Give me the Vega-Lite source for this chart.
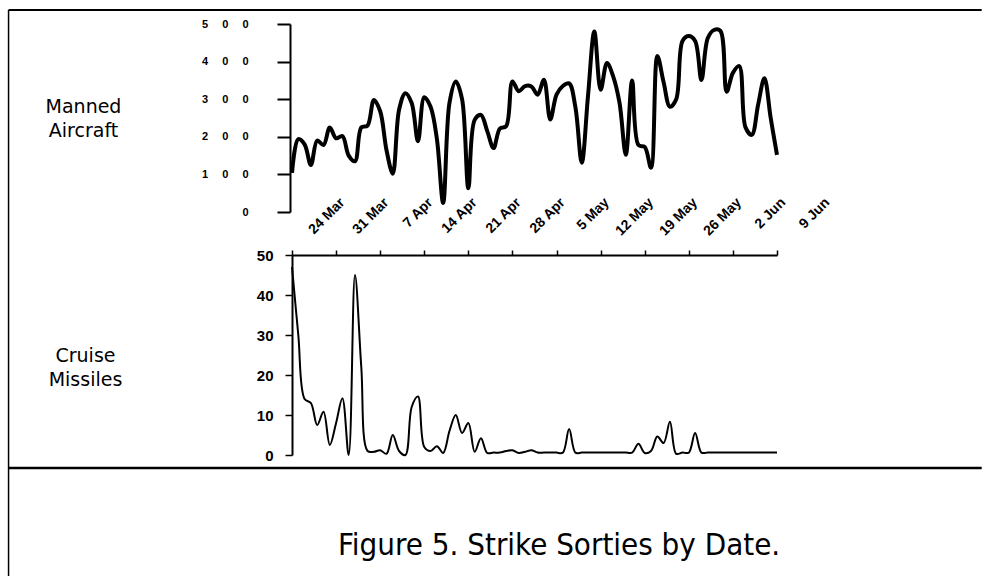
{
  "$schema": "https://vega.github.io/schema/vega-lite/v6.json",
  "background": "white",
  "padding": {"left": 7, "top": 9, "right": 0, "bottom": 0},
  "autosize": {"type": "pad"},
  "config": {
    "view": {"stroke": null},
    "axis": {"grid": false, "domainColor": "black", "tickColor": "black", "labelColor": "black", "titleColor": "black"}
  },
  "title": {
    "text": "Figure 5. Strike Sorties by Date.",
    "orient": "bottom",
    "anchor": "middle",
    "font": "DejaVu Sans Condensed, Open Sans, sans-serif",
    "fontSize": 31,
    "fontWeight": "normal",
    "color": "black",
    "offset": -46,
    "dx": 64
  },
  "datasets": {
    "sorties": [
      {"date": "1999-03-24", "manned": 104, "cruise": 47},
      {"date": "1999-03-25", "manned": 194, "cruise": 30},
      {"date": "1999-03-26", "manned": 180, "cruise": 14},
      {"date": "1999-03-27", "manned": 125, "cruise": 13},
      {"date": "1999-03-28", "manned": 190, "cruise": 7.5},
      {"date": "1999-03-29", "manned": 178, "cruise": 10.8},
      {"date": "1999-03-30", "manned": 225, "cruise": 2.5},
      {"date": "1999-03-31", "manned": 196, "cruise": 8},
      {"date": "1999-04-01", "manned": 202, "cruise": 14.2},
      {"date": "1999-04-02", "manned": 150, "cruise": 0},
      {"date": "1999-04-03", "manned": 135, "cruise": 45},
      {"date": "1999-04-04", "manned": 225, "cruise": 22},
      {"date": "1999-04-05", "manned": 230, "cruise": 1},
      {"date": "1999-04-06", "manned": 298, "cruise": 0.8},
      {"date": "1999-04-07", "manned": 268, "cruise": 1.2},
      {"date": "1999-04-08", "manned": 165, "cruise": 0.3},
      {"date": "1999-04-09", "manned": 102, "cruise": 5},
      {"date": "1999-04-10", "manned": 272, "cruise": 1},
      {"date": "1999-04-11", "manned": 316, "cruise": 0},
      {"date": "1999-04-12", "manned": 290, "cruise": 12},
      {"date": "1999-04-13", "manned": 188, "cruise": 14.6},
      {"date": "1999-04-14", "manned": 305, "cruise": 2},
      {"date": "1999-04-15", "manned": 280, "cruise": 1},
      {"date": "1999-04-16", "manned": 195, "cruise": 2.2},
      {"date": "1999-04-17", "manned": 24, "cruise": 0.5},
      {"date": "1999-04-18", "manned": 290, "cruise": 6},
      {"date": "1999-04-19", "manned": 347, "cruise": 10},
      {"date": "1999-04-20", "manned": 300, "cruise": 5.5},
      {"date": "1999-04-21", "manned": 63, "cruise": 8},
      {"date": "1999-04-22", "manned": 245, "cruise": 0.8},
      {"date": "1999-04-23", "manned": 258, "cruise": 4.2},
      {"date": "1999-04-24", "manned": 215, "cruise": 0.5},
      {"date": "1999-04-25", "manned": 170, "cruise": 0.6},
      {"date": "1999-04-26", "manned": 222, "cruise": 0.6},
      {"date": "1999-04-27", "manned": 228, "cruise": 1},
      {"date": "1999-04-28", "manned": 347, "cruise": 1.2},
      {"date": "1999-04-29", "manned": 321, "cruise": 0.5},
      {"date": "1999-04-30", "manned": 335, "cruise": 0.8},
      {"date": "1999-05-01", "manned": 334, "cruise": 1.2},
      {"date": "1999-05-02", "manned": 312, "cruise": 0.6},
      {"date": "1999-05-03", "manned": 352, "cruise": 0.6},
      {"date": "1999-05-04", "manned": 246, "cruise": 0.6},
      {"date": "1999-05-05", "manned": 312, "cruise": 0.6},
      {"date": "1999-05-06", "manned": 335, "cruise": 0.6},
      {"date": "1999-05-07", "manned": 342, "cruise": 6.5},
      {"date": "1999-05-08", "manned": 278, "cruise": 0.6},
      {"date": "1999-05-09", "manned": 131, "cruise": 0.6},
      {"date": "1999-05-10", "manned": 310, "cruise": 0.6},
      {"date": "1999-05-11", "manned": 480, "cruise": 0.6},
      {"date": "1999-05-12", "manned": 325, "cruise": 0.6},
      {"date": "1999-05-13", "manned": 396, "cruise": 0.6},
      {"date": "1999-05-14", "manned": 360, "cruise": 0.6},
      {"date": "1999-05-15", "manned": 290, "cruise": 0.6},
      {"date": "1999-05-16", "manned": 152, "cruise": 0.6},
      {"date": "1999-05-17", "manned": 350, "cruise": 0.6},
      {"date": "1999-05-18", "manned": 178, "cruise": 2.8},
      {"date": "1999-05-19", "manned": 173, "cruise": 0.5},
      {"date": "1999-05-20", "manned": 118, "cruise": 1},
      {"date": "1999-05-21", "manned": 415, "cruise": 4.6},
      {"date": "1999-05-22", "manned": 345, "cruise": 3},
      {"date": "1999-05-23", "manned": 280, "cruise": 8.3},
      {"date": "1999-05-24", "manned": 300, "cruise": 0.3},
      {"date": "1999-05-25", "manned": 455, "cruise": 0.6},
      {"date": "1999-05-26", "manned": 468, "cruise": 0.6},
      {"date": "1999-05-27", "manned": 455, "cruise": 5.5},
      {"date": "1999-05-28", "manned": 351, "cruise": 0.6},
      {"date": "1999-05-29", "manned": 462, "cruise": 0.6},
      {"date": "1999-05-30", "manned": 484, "cruise": 0.6},
      {"date": "1999-05-31", "manned": 482, "cruise": 0.6},
      {"date": "1999-06-01", "manned": 320, "cruise": 0.6},
      {"date": "1999-06-02", "manned": 370, "cruise": 0.6},
      {"date": "1999-06-03", "manned": 388, "cruise": 0.6},
      {"date": "1999-06-04", "manned": 225, "cruise": 0.6},
      {"date": "1999-06-05", "manned": 205, "cruise": 0.6},
      {"date": "1999-06-06", "manned": 285, "cruise": 0.6},
      {"date": "1999-06-07", "manned": 356, "cruise": 0.6},
      {"date": "1999-06-08", "manned": 250, "cruise": 0.6},
      {"date": "1999-06-09", "manned": 152, "cruise": 0.6}
    ]
  },
  "spacing": 43,
  "bounds": "flush",
  "vconcat": [
    {
      "width": 485,
      "height": 188,
      "resolve": {"axis": {"x": "independent", "y": "independent"}},
      "layer": [
        {
          "data": {"name": "sorties"},
          "mark": {"type": "line", "interpolate": "catmull-rom", "strokeWidth": 4, "color": "black"},
          "encoding": {
            "x": {
              "field": "date", "type": "temporal",
              "scale": {"type": "utc", "domain": [{"year": 1999, "month": 3, "date": 24, "utc": true}, {"year": 1999, "month": 6, "date": 9, "utc": true}]},
              "axis": {
                "orient": "bottom", "domain": false, "ticks": false, "tickSize": 0, "title": null,
                "values": [
                  {"year": 1999, "month": 3, "date": 24, "utc": true},
                  {"year": 1999, "month": 3, "date": 31, "utc": true},
                  {"year": 1999, "month": 4, "date": 7, "utc": true},
                  {"year": 1999, "month": 4, "date": 14, "utc": true},
                  {"year": 1999, "month": 4, "date": 21, "utc": true},
                  {"year": 1999, "month": 4, "date": 28, "utc": true},
                  {"year": 1999, "month": 5, "date": 5, "utc": true},
                  {"year": 1999, "month": 5, "date": 12, "utc": true},
                  {"year": 1999, "month": 5, "date": 19, "utc": true},
                  {"year": 1999, "month": 5, "date": 26, "utc": true},
                  {"year": 1999, "month": 6, "date": 2, "utc": true},
                  {"year": 1999, "month": 6, "date": 9, "utc": true}
                ],
                "format": "%-d %b",
                "labelAngle": -45, "labelAlign": "right", "labelBaseline": "top",
                "labelFont": "Liberation Sans", "labelFontWeight": "bold", "labelFontSize": 14,
                "labelPadding": -17, "labelOffset": 45,
                "labelOverlap": false, "labelFlush": false, "labelBound": false
              }
            },
            "y": {
              "field": "manned", "type": "quantitative",
              "scale": {"domain": [0, 500]},
              "axis": {
                "values": [0, 100, 200, 300, 400, 500],
                "offset": 2, "tickSize": 13, "tickWidth": 2, "domainWidth": 2,
                "labelPadding": 29, "labelFont": "Liberation Sans", "labelFontWeight": "bold", "labelFontSize": 11,
                "labelOverlap": false, "labelFlush": false, "labelBound": false,
                "labelExpr": "datum.value == 0 ? '0' : slice(datum.label, 0, 1) + '\u2003 0\u2003 0'",
                "title": ["Manned", "Aircraft"], "titleAngle": 0, "titleFont": "DejaVu Sans", "titleFontSize": 19,
                "titleFontWeight": "normal", "titleLineHeight": 24, "titleAlign": "center", "titleBaseline": "middle",
                "titleX": -207, "titleY": 82
              }
            }
          }
        },
        {
          "data": {"values": [{}]},
          "mark": {"type": "rule", "strokeWidth": 2, "color": "black"},
          "encoding": {
            "x": {"datum": {"year": 1999, "month": 2, "date": 7, "utc": true}, "type": "temporal", "axis": null},
            "x2": {"datum": {"year": 1999, "month": 7, "date": 11, "hours": 12, "utc": true}},
            "y": {"datum": 537, "axis": null}
          }
        },
        {
          "data": {"values": [{}]},
          "mark": {"type": "rule", "strokeWidth": 1.5, "color": "black"},
          "encoding": {
            "x": {"datum": {"year": 1999, "month": 2, "date": 7, "utc": true}, "type": "temporal", "axis": null},
            "y": {"datum": 537, "axis": null},
            "y2": {"datum": -968}
          }
        }
      ]
    },
    {
      "width": 485,
      "height": 200,
      "resolve": {"axis": {"x": "independent", "y": "independent"}},
      "layer": [
        {
          "data": {"name": "sorties"},
          "mark": {"type": "line", "interpolate": "catmull-rom", "strokeWidth": 2, "color": "black"},
          "encoding": {
            "x": {
              "field": "date", "type": "temporal",
              "scale": {"type": "utc", "domain": [{"year": 1999, "month": 3, "date": 24, "utc": true}, {"year": 1999, "month": 6, "date": 9, "utc": true}]},
              "axis": {
                "orient": "top", "labels": false, "title": null,
                "values": [
                  {"year": 1999, "month": 3, "date": 24, "utc": true},
                  {"year": 1999, "month": 3, "date": 31, "utc": true},
                  {"year": 1999, "month": 4, "date": 7, "utc": true},
                  {"year": 1999, "month": 4, "date": 14, "utc": true},
                  {"year": 1999, "month": 4, "date": 21, "utc": true},
                  {"year": 1999, "month": 4, "date": 28, "utc": true},
                  {"year": 1999, "month": 5, "date": 5, "utc": true},
                  {"year": 1999, "month": 5, "date": 12, "utc": true},
                  {"year": 1999, "month": 5, "date": 19, "utc": true},
                  {"year": 1999, "month": 5, "date": 26, "utc": true},
                  {"year": 1999, "month": 6, "date": 2, "utc": true},
                  {"year": 1999, "month": 6, "date": 9, "utc": true}
                ],
                "tickSize": 5, "tickWidth": 1.5, "domainWidth": 2
              }
            },
            "y": {
              "field": "cruise", "type": "quantitative",
              "scale": {"domain": [0, 50]},
              "axis": {
                "values": [0, 10, 20, 30, 40, 50],
                "tickSize": 7, "tickWidth": 1.5, "domainWidth": 2,
                "labelPadding": 12, "labelFont": "Liberation Sans", "labelFontWeight": "bold", "labelFontSize": 15,
                "labelOverlap": false, "labelFlush": false, "labelBound": false,
                "title": ["Cruise", "Missiles"], "titleAngle": 0, "titleFont": "DejaVu Sans", "titleFontSize": 19,
                "titleFontWeight": "normal", "titleLineHeight": 24, "titleAlign": "center", "titleBaseline": "middle",
                "titleX": -207, "titleY": 100
              }
            }
          }
        },
        {
          "data": {"values": [{}]},
          "mark": {"type": "rule", "strokeWidth": 2.5, "color": "black"},
          "encoding": {
            "x": {"datum": {"year": 1999, "month": 2, "date": 7, "utc": true}, "type": "temporal", "axis": null},
            "x2": {"datum": {"year": 1999, "month": 7, "date": 11, "hours": 12, "utc": true}},
            "y": {"datum": -3.25, "axis": null}
          }
        }
      ]
    }
  ]
}
